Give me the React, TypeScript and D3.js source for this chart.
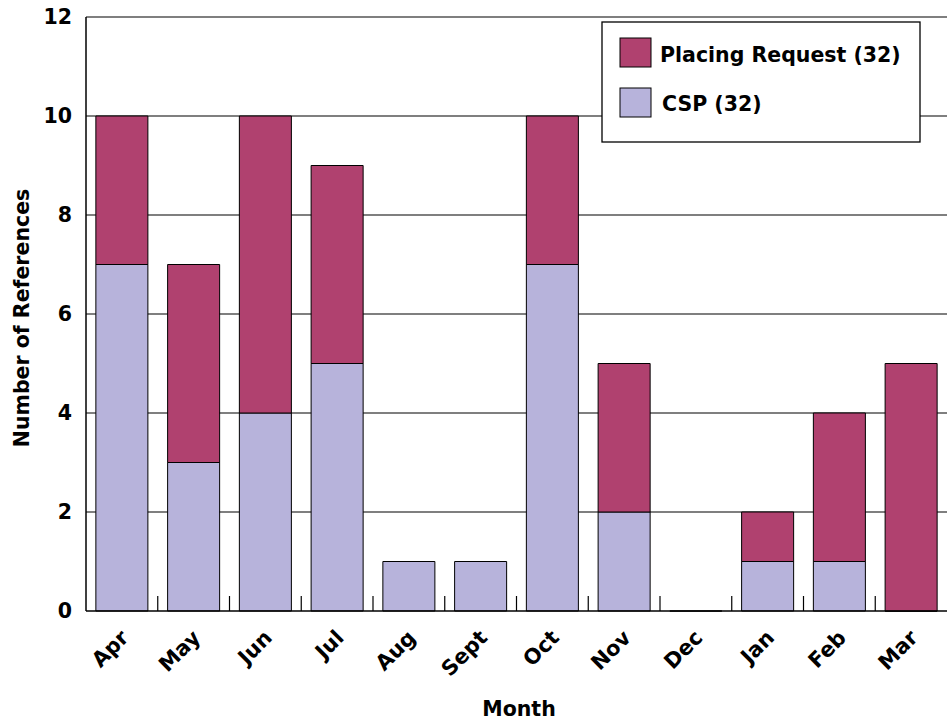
import React from "react";
import * as d3 from "d3";

const months = ["Apr", "May", "Jun", "Jul", "Aug", "Sept", "Oct", "Nov", "Dec", "Jan", "Feb", "Mar"];
const cspValues = [7, 3, 4, 5, 1, 1, 7, 2, 0, 1, 1, 0];
const placingValues = [3, 4, 6, 4, 0, 0, 3, 3, 0, 1, 3, 5];
const yTicks = [0, 2, 4, 6, 8, 10, 12];
const seriesNames = ["Placing Request (32)", "CSP (32)"];

const W = 947, H = 725;
const left = 86, right = 947, top = 17, bottom = 611;
const FONT = "'DejaVu Sans', Verdana, sans-serif";
const cPlacing = "#B0416F";
const cCsp = "#B7B3DB";

export default function App() {
  const x = d3.scaleBand<string>().domain(months).range([left, right]).paddingInner(0.275).paddingOuter(0.1375);
  const y = d3.scaleLinear().domain([0, 12]).range([bottom, top]);
  const step = x.step();

  const barPath = (x0: number, w: number, y0: number, y1: number) =>
    `M${x0},${y1}H${x0 + w}V${y0}H${x0}Z`;

  return (
    <svg width={W} height={H} style={{ position: "absolute", left: 0, top: 0, background: "#fff" }}>
      <rect x={0} y={0} width={W} height={H} fill="#fff" />
      {yTicks.filter(t => t > 0).map(t => (
        <line key={t} x1={left} x2={right} y1={y(t)} y2={y(t)} stroke="#000" strokeWidth={1.2} />
      ))}
      {months.map((m, i) => {
        const bx = x(m)!;
        const bw = x.bandwidth();
        const c = cspValues[i];
        const p = placingValues[i];
        return (
          <g key={m}>
            <path d={barPath(bx, bw, y(0), y(c))} fill={cCsp} stroke="#000" strokeWidth={1} />
            {p > 0 && <path d={barPath(bx, bw, y(c), y(c + p))} fill={cPlacing} stroke="#000" strokeWidth={1} />}
          </g>
        );
      })}
      <line x1={left} x2={left} y1={top} y2={bottom} stroke="#000" strokeWidth={1.5} />
      <line x1={left} x2={right} y1={bottom} y2={bottom} stroke="#000" strokeWidth={1.5} />
      {months.slice(1).map((m, i) => {
        const tx = left + step * (i + 1);
        return <line key={"t" + m} x1={tx} x2={tx} y1={bottom} y2={bottom - 15} stroke="#000" strokeWidth={1.2} />;
      })}
      {yTicks.map(t => (
        <text key={"yl" + t} x={72} y={y(t)} dy="0.36em" textAnchor="end" fontFamily={FONT} fontWeight="bold" fontSize={20.5} fill="#000">
          {t}
        </text>
      ))}
      {months.map(m => {
        const cx = x(m)! + x.bandwidth() / 2;
        return (
          <text key={"xl" + m} transform={`translate(${cx + 8},${639}) rotate(-45)`} textAnchor="end"
            fontFamily={FONT} fontWeight="bold" fontSize={21} fill="#000">
            {m}
          </text>
        );
      })}
      <text x={519} y={716} textAnchor="middle" fontFamily={FONT} fontWeight="bold" fontSize={20.5} fill="#000">Month</text>
      <text transform={`translate(29,${318}) rotate(-90)`} textAnchor="middle" fontFamily={FONT} fontWeight="bold" fontSize={20.5} fill="#000">
        Number of References
      </text>
      <rect x={602} y={22} width={318} height={120} fill="#fff" stroke="#000" strokeWidth={1.3} />
      <rect x={620} y={38} width={31} height={29} fill={cPlacing} stroke="#000" strokeWidth={1} />
      <rect x={620} y={88} width={31} height={29} fill={cCsp} stroke="#000" strokeWidth={1} />
      <text x={660} y={62} fontFamily={FONT} fontWeight="bold" fontSize={20.5} fill="#000">{seriesNames[0]}</text>
      <text x={662} y={111} fontFamily={FONT} fontWeight="bold" fontSize={20.5} fill="#000">{seriesNames[1]}</text>
    </svg>
  );
}
